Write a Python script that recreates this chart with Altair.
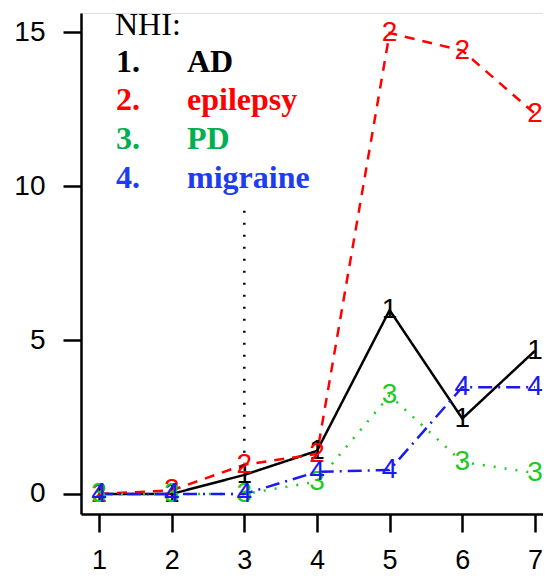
import altair as alt
import pandas as pd

x_vals = [1, 2, 3, 4, 5, 6, 7]
ad = [0, 0, 0.62, 1.4, 5.97, 2.45, 4.65]
epilepsy = [0, 0.12, 0.95, 1.3, 14.97, 14.4, 12.35]
pd_vals = [0, 0, 0, 0.4, 3.2, 1.04, 0.68]
migraine = [0, 0, 0, 0.72, 0.78, 3.47, 3.47]

series_ids = ["1", "2", "3", "4"]
series_vals = [ad, epilepsy, pd_vals, migraine]
line_colors = ["#000000", "#FF0000", "#1ECB1E", "#1A1AF0"]
dashes = [[1, 0], [10, 8], [2, 9], [14, 6, 2, 6]]

legend_title = "NHI:"
legend_nums = ["1.", "2.", "3.", "4."]
legend_names = ["AD", "epilepsy", "PD", "migraine"]
legend_colors = ["#000000", "#FF0000", "#00B050", "#1E3CF0"]

vline_x = [3]
vline_top = [9.2]
vline_bottom = [1.0]

x_ticks = [1, 2, 3, 4, 5, 6, 7]
y_ticks = [0, 5, 10, 15]

xs = alt.Scale(domain=[0.752, 7.111], nice=False, zero=False)
ys = alt.Scale(domain=[-0.65, 15.62], nice=False, zero=False)

layers = []
for sid, vals, col, dash in zip(series_ids, series_vals, line_colors, dashes):
    df = pd.DataFrame({"x": x_vals, "y": vals, "lab": sid})
    line = alt.Chart(df).mark_line(color=col, strokeWidth=2.5, strokeDash=dash).encode(
        x=alt.X("x:Q", scale=xs,
                axis=alt.Axis(values=x_ticks, title=None, grid=False, tickSize=18,
                              tickWidth=2.5, tickColor="black", domainColor="black",
                              domainWidth=2.5, labelFont="Liberation Sans",
                              labelFontSize=27, labelColor="black", labelPadding=15,
                              format="d")),
        y=alt.Y("y:Q", scale=ys,
                axis=alt.Axis(values=y_ticks, title=None, grid=False, tickSize=18,
                              tickWidth=2.5, tickColor="black", domainColor="black",
                              domainWidth=2.5, labelFont="Liberation Sans",
                              labelFontSize=28, labelColor="black", labelPadding=18,
                              format="d")),
    )
    layers.append(line)

for sid, vals, col in zip(series_ids, series_vals, line_colors):
    df = pd.DataFrame({"x": x_vals, "y": vals, "lab": sid})
    txt = alt.Chart(df).mark_text(color=col, font="Liberation Sans", fontSize=28,
                                  baseline="middle", align="center").encode(
        x=alt.X("x:Q", scale=xs), y=alt.Y("y:Q", scale=ys), text="lab:N")
    layers.append(txt)

vdf = pd.DataFrame({"x": vline_x, "y": vline_top, "y2": vline_bottom})
vline = alt.Chart(vdf).mark_rule(color="black", strokeWidth=2.5, strokeDash=[2, 10]).encode(
    x=alt.X("x:Q", scale=xs), y=alt.Y("y:Q", scale=ys), y2="y2:Q")
layers.append(vline)

title_df = pd.DataFrame({"t": [legend_title]})
layers.append(alt.Chart(title_df).mark_text(font="Liberation Serif", fontSize=32,
                                            align="left", baseline="alphabetic",
                                            color="black").encode(
    x=alt.value(34), y=alt.value(22), text="t:N"))

for i, (num, name, col) in enumerate(zip(legend_nums, legend_names, legend_colors)):
    ypos = [59, 97, 136, 175][i]
    ndf = pd.DataFrame({"t": [num]})
    mdf = pd.DataFrame({"t": [name]})
    layers.append(alt.Chart(ndf).mark_text(font="Liberation Serif", fontSize=32, fontWeight="bold",
                                           align="left", baseline="alphabetic", color=col).encode(
        x=alt.value(35), y=alt.value(ypos), text="t:N"))
    layers.append(alt.Chart(mdf).mark_text(font="Liberation Serif", fontSize=32, fontWeight="bold",
                                           align="left", baseline="alphabetic", color=col).encode(
        x=alt.value(106), y=alt.value(ypos), text="t:N"))

chart = alt.layer(*layers).properties(
    width=462, height=501,
    autosize=alt.AutoSizeParams(type="none"),
    padding={"left": 73, "top": 5, "right": 0, "bottom": 62},
).configure_view(stroke=None).configure(background="white")

chart.save("out.html", embed_options={"renderer": "svg", "actions": False})
